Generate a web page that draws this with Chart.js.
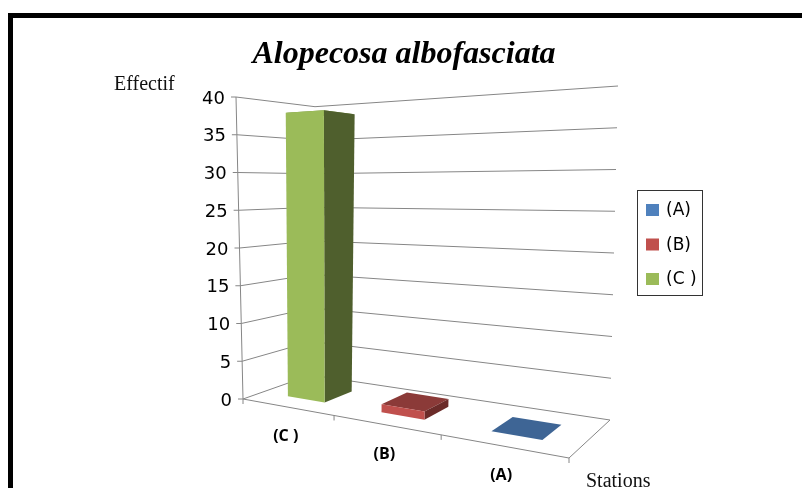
<!DOCTYPE html>
<html>
<head>
<meta charset="utf-8">
<title>Alopecosa albofasciata</title>
<style>
  html, body { margin: 0; padding: 0; background: #fff; overflow: hidden; }
  #cadre { position: absolute; left: 8px; top: 13px; right: 0; bottom: -10px; border-top: 5px solid #000; border-left: 5px solid #000; }
  #graph { position: absolute; left: 0; top: 0; }
</style>
<script src="https://cdn.jsdelivr.net/npm/chart.js@4"></script>
</head>
<body>
<canvas id="graph" width="802" height="488"></canvas>
<div id="cadre"></div>
<script>
const stations = ["(C )", "(B)", "(A)"];
const seriesNames = ["(A)", "(B)", "(C )"];
const valuesA = [null, null, 0];
const valuesB = [null, 1, null];
const valuesC = [38, null, null];

const colors = ["#4f81bd", "#c0504d", "#9bbb59"];
const sideColors = ["#2f4d71", "#6b2b29", "#4f5f2d"];
const topColors = ["#3e6595", "#8b3a38", "#7a9446"];

// corners of the 3D box as they land on the picture
const floor = { fl: [243, 399], fr: [569, 458], br: [610, 420], bl: [311, 375] };
const roof = { fl: [236, 97], fr: [576, 69.5], br: [618, 86], bl: [315, 106.7] };
const barWidth = 0.137, barFront = 0.27, barBack = 0.69;
const gridColor = "#868686";

// unit square to quad
function homography(q) {
    const [x0, y0] = q.fl, [x1, y1] = q.fr, [x2, y2] = q.br, [x3, y3] = q.bl;
    const dx1 = x1 - x2, dx2 = x3 - x2, sx = x0 - x1 + x2 - x3;
    const dy1 = y1 - y2, dy2 = y3 - y2, sy = y0 - y1 + y2 - y3;
    const den = dx1 * dy2 - dx2 * dy1;
    const g = (sx * dy2 - dx2 * sy) / den;
    const h = (dx1 * sy - sx * dy1) / den;
    return (u, d) => {
        const w = g * u + h * d + 1;
        return [
            ((x1 - x0 + g * x1) * u + (x3 - x0 + h * x3) * d + x0) / w,
            ((y1 - y0 + g * y1) * u + (y3 - y0 + h * y3) * d + y0) / w
        ];
    };
}
const onFloor = homography(floor);
const onRoof = homography(roof);

function project(chart, u, d, v) {
    const y = chart.scales.y;
    const t = (y.bottom - y.getPixelForValue(v)) / (y.bottom - y.top);
    const a = onFloor(u, d), b = onRoof(u, d);
    return [a[0] + (b[0] - a[0]) * t, a[1] + (b[1] - a[1]) * t];
}

function line(ctx, a, b) {
    ctx.beginPath();
    ctx.moveTo(a[0], a[1]);
    ctx.lineTo(b[0], b[1]);
    ctx.stroke();
}

function face(ctx, pts, color) {
    ctx.fillStyle = color;
    ctx.beginPath();
    pts.forEach((p, i) => i ? ctx.lineTo(p[0], p[1]) : ctx.moveTo(p[0], p[1]));
    ctx.closePath();
    ctx.fill();
}

const box3d = {
    id: "box3d",
    // replaces the flat bars
    beforeDatasetsDraw(chart) {
        const ctx = chart.ctx, x = chart.scales.x, y = chart.scales.y;
        const p = (u, d, v) => project(chart, u, d, v);
        ctx.save();
        ctx.strokeStyle = gridColor;
        ctx.lineWidth = 1;

        // walls
        y.ticks.forEach(t => {
            line(ctx, p(0, 0, t.value), p(0, 1, t.value));
            line(ctx, p(0, 1, t.value), p(1, 1, t.value));
            const a = p(0, 0, t.value);
            line(ctx, [a[0] - 5, a[1]], a);
            ctx.fillStyle = "#000";
            ctx.font = "18px 'DejaVu Sans'";
            ctx.textAlign = "right";
            ctx.textBaseline = "middle";
            ctx.fillText(t.label, a[0] - 11, a[1] + 2);
        });
        line(ctx, p(0, 0, 0), p(0, 0, y.max));

        // floor
        line(ctx, p(0, 0, 0), p(1, 0, 0));
        line(ctx, p(1, 0, 0), p(1, 1, 0));
        stations.forEach((s, i) => {
            const a = p((i + 1) / stations.length, 0, 0);
            line(ctx, a, [a[0], a[1] + 5]);
        });
        const a0 = p(0, 0, 0);
        line(ctx, a0, [a0[0], a0[1] + 5]);

        // bars, back to front
        chart.data.datasets.forEach((ds, k) => {
            ds.data.forEach((v, i) => {
                if (v === null) return;
                const c = (x.getPixelForValue(i) - x.left) / x.width;
                const l = c - barWidth / 2, r = c + barWidth / 2;
                face(ctx, [p(l, barFront, v), p(r, barFront, v), p(r, barBack, v), p(l, barBack, v)], topColors[k]);
                if (v > 0) {
                    face(ctx, [p(r, barFront, 0), p(r, barBack, 0), p(r, barBack, v), p(r, barFront, v)], sideColors[k]);
                    face(ctx, [p(l, barFront, 0), p(r, barFront, 0), p(r, barFront, v), p(l, barFront, v)], ds.backgroundColor);
                }
            });
        });

        // station names under the front edge
        ctx.fillStyle = "#000";
        ctx.font = "bold 16px 'Open Sans'";
        ctx.textAlign = "center";
        ctx.textBaseline = "middle";
        stations.forEach((s, i) => {
            const a = p((x.getPixelForValue(i) - x.left) / x.width, 0, 0);
            ctx.fillText(s, a[0] - 1, a[1] + 30);
        });

        // axis names
        ctx.font = "20px 'Liberation Serif'";
        ctx.textAlign = "left";
        ctx.textBaseline = "alphabetic";
        ctx.fillStyle = "#111";
        ctx.fillText("Effectif", 114, 90);
        ctx.fillText("Stations", 586, 487);

        // legend
        ctx.fillStyle = "#fff";
        ctx.strokeStyle = "#333";
        ctx.strokeRect(637.5, 190.5, 65, 105);
        ctx.font = "17px 'DejaVu Sans'";
        ctx.textBaseline = "middle";
        chart.data.datasets.forEach((ds, k) => {
            const ly = 204 + k * 34.5;
            ctx.fillStyle = ds.backgroundColor;
            ctx.fillRect(646, ly, 13, 12);
            ctx.fillStyle = "#000";
            ctx.fillText(ds.label, 666, ly + 7);
        });
        ctx.restore();
        return false;
    }
};

new Chart(document.getElementById("graph"), {
    type: "bar",
    data: {
        labels: stations,
        datasets: [
            { label: seriesNames[0], data: valuesA, backgroundColor: colors[0] },
            { label: seriesNames[1], data: valuesB, backgroundColor: colors[1] },
            { label: seriesNames[2], data: valuesC, backgroundColor: colors[2] }
        ]
    },
    options: {
        responsive: false,
        animation: false,
        layout: { padding: { left: 236, right: 230, top: 36, bottom: 89 } },
        plugins: {
            legend: { display: false },
            tooltip: { enabled: false },
            title: {
                display: true,
                text: "Alopecosa albofasciata",
                color: "#000",
                font: { family: "'Liberation Serif'", size: 32, style: "italic", weight: "bold" },
                padding: { top: 0, bottom: 22 }
            }
        },
        scales: {
            x: { display: false },
            y: {
                min: 0,
                max: 40,
                ticks: { stepSize: 5, display: false },
                grid: { display: false },
                border: { display: false }
            }
        }
    },
    plugins: [box3d]
});
</script>
</body>
</html>
